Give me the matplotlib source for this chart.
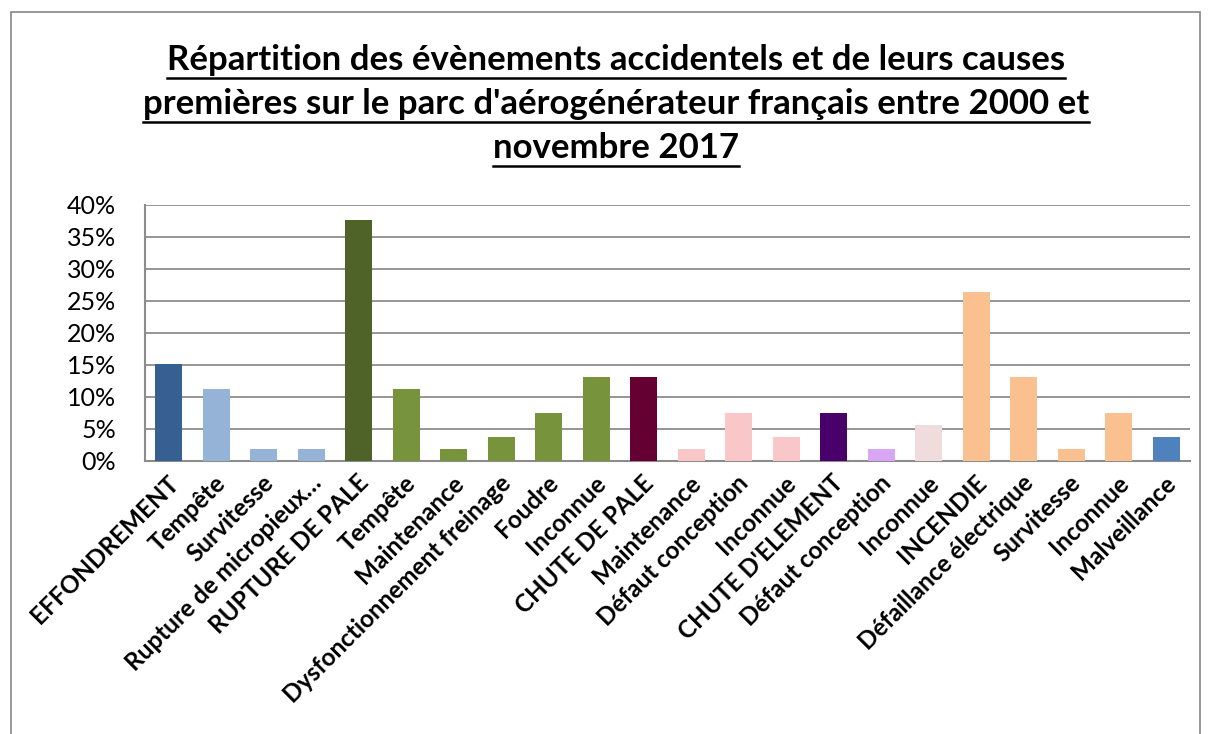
import matplotlib
matplotlib.use("Agg")
import matplotlib.pyplot as plt
from matplotlib.patches import Rectangle
from matplotlib.lines import Line2D
from matplotlib.ticker import PercentFormatter, MultipleLocator
from matplotlib.transforms import ScaledTranslation

plt.rcParams['font.family'] = ['Lato', 'DejaVu Sans']

categories = [
    "EFFONDREMENT", "Tempête", "Survitesse", "Rupture de micropieux…",
    "RUPTURE DE PALE", "Tempête", "Maintenance", "Dysfonctionnement freinage",
    "Foudre", "Inconnue", "CHUTE DE PALE", "Maintenance", "Défaut conception",
    "Inconnue", "CHUTE D'ELEMENT", "Défaut conception", "Inconnue", "INCENDIE",
    "Défaillance électrique", "Survitesse", "Inconnue", "Malveillance",
]
values = [
    15.1, 11.3, 1.9, 1.9,
    37.7, 11.3, 1.9, 3.8,
    7.5, 13.2, 13.2, 1.9, 7.5,
    3.8, 7.5, 1.9, 5.7, 26.4,
    13.2, 1.9, 7.5, 3.8,
]
colors = [
    "#366092", "#95B3D7", "#95B3D7", "#95B3D7",
    "#4F6228", "#77933C", "#77933C", "#77933C",
    "#77933C", "#77933C", "#660033", "#F9C7C7", "#F9C7C7",
    "#F9C7C7", "#4A006B", "#D9A5F5", "#F0DCDC", "#FAC090",
    "#FAC090", "#FAC090", "#FAC090", "#4F81BD",
]
title_lines = [
    "Répartition des évènements accidentels et de leurs causes",
    "premières sur le parc d'aérogénérateur français entre 2000 et",
    "novembre 2017",
]

W, H = 1209, 734
fig = plt.figure(figsize=(W / 100, H / 100), dpi=100)
fig.patch.set_facecolor("white")

# outer chart border
fig.patches.append(Rectangle((11 / W, -0.05), (1200 - 11) / W, 1.05 - 12 / H,
                             transform=fig.transFigure, fill=False,
                             edgecolor="#868686", linewidth=1.2))

ax = fig.add_axes([145 / W, 1 - 461 / H, (1190 - 145) / W, (461 - 205) / H])
x = list(range(len(categories)))
ax.bar(x, values, width=0.57, color=colors, zorder=3)
ax.set_xlim(-0.5, len(categories) - 0.5)
ax.set_ylim(0, 40)
ax.yaxis.set_major_locator(MultipleLocator(5))
ax.yaxis.set_major_formatter(PercentFormatter(decimals=0))
ax.grid(axis="y", color="#8C8C8C", linewidth=1.3, zorder=0)
for s in ["top", "right"]:
    ax.spines[s].set_visible(False)
for s in ["left", "bottom"]:
    ax.spines[s].set_color("#8C8C8C")
    ax.spines[s].set_linewidth(1.5)
ax.tick_params(axis="y", length=0, pad=21, labelsize=18)
ax.tick_params(axis="x", length=0, pad=13)
ax.set_xticks(x)
ax.set_xticklabels(categories, rotation=45, ha="right", va="center",
                   rotation_mode="anchor", fontsize=17.5, fontweight="bold")
offset = ScaledTranslation(6 / 100, 0, fig.dpi_scale_trans)
for lab in ax.get_xticklabels():
    lab.set_transform(lab.get_transform() + offset)

# title with underline
ys = [60, 104, 148]
texts = []
for line, yy in zip(title_lines, ys):
    t = fig.text(616 / W, 1 - yy / H, line, ha="center", va="center",
                 fontsize=25, fontweight="bold")
    texts.append(t)
fig.canvas.draw()
r = fig.canvas.get_renderer()
for t, yy in zip(texts, ys):
    bb = t.get_window_extent(renderer=r)
    yline = (H - yy - 18) / H
    fig.add_artist(Line2D([bb.x0 / W, bb.x1 / W], [yline, yline],
                          transform=fig.transFigure, color="black", linewidth=1.8))

fig.savefig("out.png", dpi=100)
